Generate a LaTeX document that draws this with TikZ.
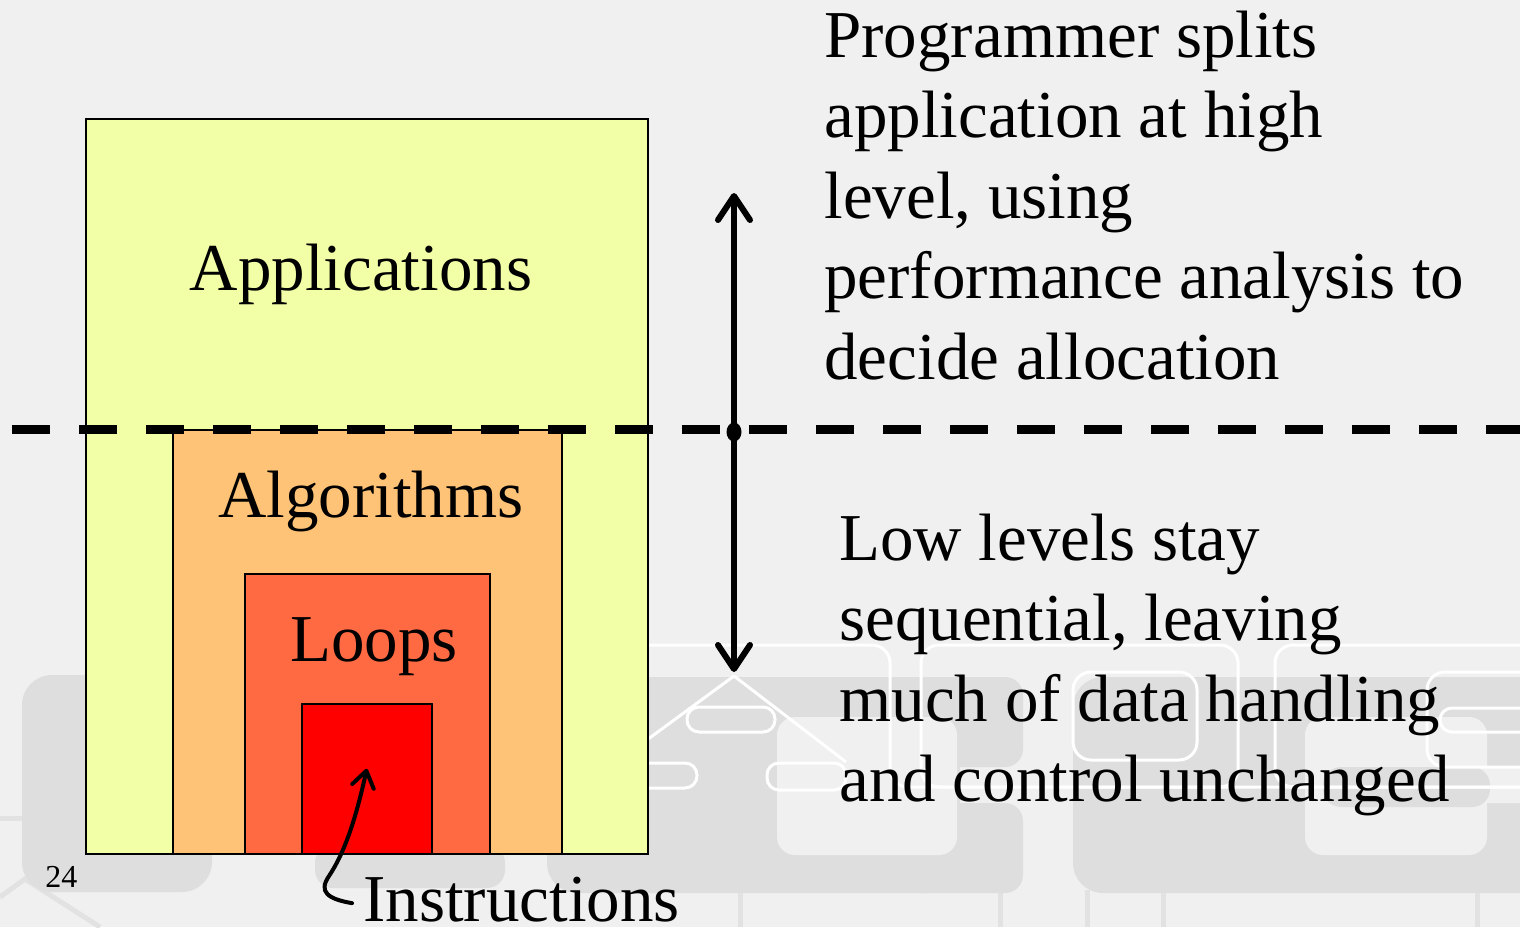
\documentclass[tikz,border=0pt]{standalone}
\usepackage{fontspec}
\setmainfont{Liberation Serif}
\usetikzlibrary{arrows.meta,calc}

\definecolor{bg}{RGB}{240,240,240}
\definecolor{wm}{RGB}{222,222,222}
\definecolor{wmline}{RGB}{226,226,226}
\definecolor{lvlA}{RGB}{243,255,166}
\definecolor{lvlB}{RGB}{254,195,118}
\definecolor{lvlC}{RGB}{255,106,67}
\definecolor{lvlD}{RGB}{255,0,0}

% plain interword spacing inside aligned nodes
\newcommand\plainspaces{\spaceskip=0.25em\relax}

\begin{document}
\begin{tikzpicture}[x=0.5pt,y=-0.5pt,
  wmshape/.style={fill=wm, rounded corners=15pt},
  wmpill/.style={fill=wm, rounded corners=9pt},
  wmhole/.style={fill=bg, rounded corners=9pt},
  wmtrace/.style={draw=white, line width=1.5pt, rounded corners=9pt},
  wmleg/.style={draw=wmline, line width=2.5pt},
  level/.style={draw=black, line width=0.8pt, anchor=north west, inner sep=0pt},
  lbl/.style={font=\fontsize{33.5}{40.25}\selectfont, inner sep=0pt},
  note/.style={lbl, text width=345pt, align=left, anchor=base west},
  split/.style={draw=black, line width=4.5pt, dash pattern=on 19pt off 14.5pt},
  span/.style={draw=black, line width=3pt, line cap=round,
    -{Straight Barb[length=12pt,width=16pt,round]}},
  hook/.style={draw=black, line width=2pt, line cap=round,
    -{Straight Barb[length=8pt,width=11pt,round]}}
]
% page background
\fill[bg] (0,0) rectangle (1520,927);
\useasboundingbox (0,0) rectangle (1520,927);

% ---- circuit watermark ----
\draw[wmleg] (0,818) -- (22,818);
\draw[wmleg] (0,897) -- (25,879) -- (100,927);
\foreach \lx in {740,1000,1087,1163,1477}
  \draw[wmleg] (\lx,890) -- (\lx,927);

\path[wmshape] (22,675) rectangle (212,892);
\path[wmpill]  (315,845) rectangle (505,888);
\path[wmshape] (547,677) rectangle (960,893);
\path[wmpill]  (900,677) rectangle (1023,767);
\path[wmpill]  (900,803) rectangle (1023,893);
\path[wmhole]  (777,717) rectangle (957,855);
\path[wmshape] (1073,677) rectangle (1560,893);
\path[wmhole]  (1305,717) rectangle (1487,855);
\path[wmhole]  (1470,767) rectangle (1560,803);
\path[wmpill]  (1323,767) rectangle (1490,807);

\draw[wmtrace] (560,645) -- (890,645) -- (890,787) -- (1530,787);
\draw[wmtrace] (921,645) rectangle (1238,787);
\draw[wmtrace] (1275,645) rectangle (1560,787);
\draw[wmtrace] (1073,672) rectangle (1197,760);
\draw[wmtrace] (1427,672) rectangle (1560,767);
\draw[wmtrace, rounded corners=6pt] (1440,708) rectangle (1560,732);
\draw[white, line width=1.5pt, line join=round] (640,745) -- (734,676) -- (846,762);
\draw[wmtrace, rounded corners=6pt] (687,707) rectangle (775,732);
\draw[wmtrace, rounded corners=6pt] (767,763) rectangle (846,790);
\draw[wmtrace, rounded corners=6pt] (600,763) rectangle (697,788);

% ---- nested levels ----
\node[level, fill=lvlA, minimum width=281pt, minimum height=367.5pt] (appbox) at (85,118) {};
\node[level, fill=lvlB, minimum width=194.5pt, minimum height=212pt] (algbox) at (172,429) {};
\node[level, fill=lvlC, minimum width=122.5pt, minimum height=140pt] (loopbox) at (244,573) {};
\node[level, fill=lvlD, minimum width=65pt, minimum height=75pt] (insbox) at (301,703) {};

\node[lbl, anchor=base] (applbl) at (361,290) {Applications};
\node[lbl, anchor=base] (alglbl) at (371,517) {Algorithms};
\node[lbl, anchor=base] (looplbl) at (374,661) {Loops};
\node[lbl, anchor=base west] (inslbl) at (363,921) {Instructions};
\node[font=\fontsize{16}{19}\selectfont, anchor=base west, inner sep=0pt] (pagenum) at (45,887) {24};

\draw[hook] ($(inslbl.west)+(-11,4)$)
  .. controls (328,899) and (318,892) .. (329,876)
  .. controls (345,852) and (356,818) .. ($(insbox.center)+(0,-10)$);

% ---- split line and span arrows ----
\coordinate (splitL) at (12,429);
\coordinate (splitR) at (1530,429);
\draw[split] (splitL) -- (splitR);

\coordinate (mid) at (734,432);
\coordinate (hi) at (734,193);
\coordinate (lo) at (734,672);
\draw[span] (mid) -- (hi);
\draw[span] (mid) -- (lo);
\fill (mid) ellipse (7.5 and 9.5);

% ---- explanations ----
\node[note] (upper) at (824,57) {\plainspaces Programmer splits\\application at high\\level, using\\performance analysis to\\decide allocation};
\node[note] (lower) at (839,560) {\plainspaces Low levels stay\\sequential, leaving\\much of data handling\\and control unchanged};
\end{tikzpicture}
\end{document}
